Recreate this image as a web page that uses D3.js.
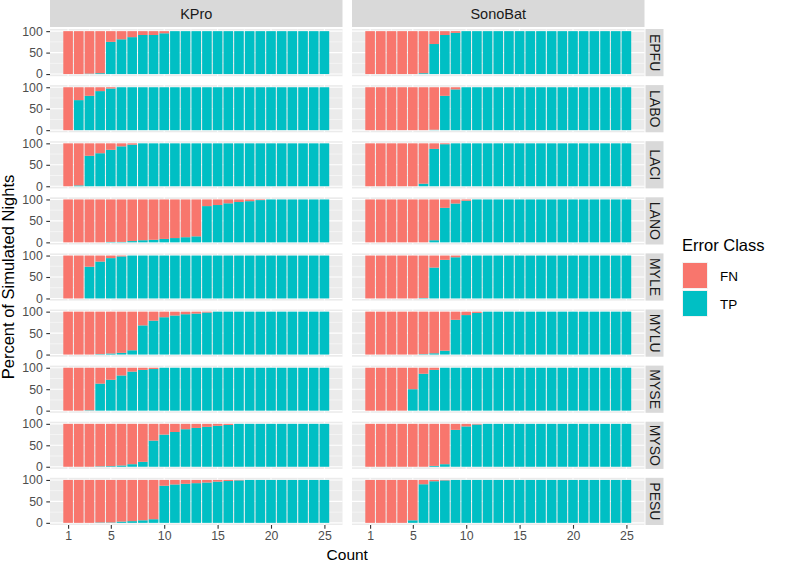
<!DOCTYPE html>
<html lang="en">
<head>
    <meta charset="UTF-8">
    <title>Error Class by Count</title>
<script src="https://d3js.org/d3.v7.min.js"></script>
    <style>
        body{
            margin: 0;
            background: #ffffff;
            font-family: "Liberation Sans", Arial, sans-serif;
        }
    </style>
</head>
<body>
<svg width="789" height="563" id="canvas"></svg>
<script>

    // categories
    const counts = [1,2,3,4,5,6,7,8,9,10,11,12,13,14,15,16,17,18,19,20,21,22,23,24,25];
    const classifiers = ["KPro", "SonoBat"];
    const species = ["EPFU", "LABO", "LACI", "LANO", "MYLE", "MYLU", "MYSE", "MYSO", "PESU"];
    const errorClasses = ["FN", "TP"];
    const xTicks = [1, 5, 10, 15, 20, 25];
    const yTicks = [0, 50, 100];

    // percent TP per count (FN is the rest up to 100)
    const kproEPFU = [0,0,1,2,75,81,86,91,91,95,100,100,100,100,100,100,100,100,100,100,100,100,100,100,100];
    const kproLABO = [0,70,80,91,97,100,100,100,100,100,100,100,100,100,100,100,100,100,100,100,100,100,100,100,100];
    const kproLACI = [0,2,71,77,85,93,97,100,100,100,100,100,100,100,100,100,100,100,100,100,100,100,100,100,100];
    const kproLANO = [0,0,0,0,1,1,3,5,6,8,10,12,14,84.5,87,91,94,96,98.5,100,100,100,100,100,100];
    const kproMYLE = [0,0,74,86,94,98,100,100,100,100,100,100,100,100,100,100,100,100,100,100,100,100,100,100,100];
    const kproMYLU = [0,0,0,1,2.5,4,10,68,79,87,91,94,95.5,98,100,100,100,100,100,100,100,100,100,100,100];
    const kproMYSE = [0,0,1,63,72,82,91,95,97,100,100,100,100,100,100,100,100,100,100,100,100,100,100,100,100];
    const kproMYSO = [0,0,0,1,1.5,3,6,11.5,61,75,81,87.5,90.5,93,95.5,97.5,100,100,100,100,100,100,100,100,100];
    const kproPESU = [0,0,0,1,1,3,4,6,8.5,86.5,89.5,91,92.5,94,96,97.5,99,100,100,100,100,100,100,100,100];

    const sonoEPFU = [0,0,0,0,0,2,70,91,96,100,100,100,100,100,100,100,100,100,100,100,100,100,100,100,100];
    const sonoLABO = [0,0,0,0,0,0,1,80,95,100,100,100,100,100,100,100,100,100,100,100,100,100,100,100,100];
    const sonoLACI = [0,0,0,0,0,6,87,98,100,100,100,100,100,100,100,100,100,100,100,100,100,100,100,100,100];
    const sonoLANO = [0,0,0,0,0,0,5,80.5,90.5,97,100,100,100,100,100,100,100,100,100,100,100,100,100,100,100];
    const sonoMYLE = [0,0,0,0,0,1,72,90,96,100,100,100,100,100,100,100,100,100,100,100,100,100,100,100,100];
    const sonoMYLU = [0,0,0,0,0,1,3,9,81,92,97,100,100,100,100,100,100,100,100,100,100,100,100,100,100];
    const sonoMYSE = [0,0,0,0,50,86,95,100,100,100,100,100,100,100,100,100,100,100,100,100,100,100,100,100,100];
    const sonoMYSO = [0,0,0,0,0,0,2,6,86,94,98.5,100,100,100,100,100,100,100,100,100,100,100,100,100,100];
    const sonoPESU = [0,0,0,0,6,90,97,99,100,100,100,100,100,100,100,100,100,100,100,100,100,100,100,100,100];

    const tpTable = {
        KPro: {EPFU: kproEPFU, LABO: kproLABO, LACI: kproLACI, LANO: kproLANO, MYLE: kproMYLE,
               MYLU: kproMYLU, MYSE: kproMYSE, MYSO: kproMYSO, PESU: kproPESU},
        SonoBat: {EPFU: sonoEPFU, LABO: sonoLABO, LACI: sonoLACI, LANO: sonoLANO, MYLE: sonoMYLE,
                  MYLU: sonoMYLU, MYSE: sonoMYSE, MYSO: sonoMYSO, PESU: sonoPESU}
    };

    const colors = {FN: "#F8766D", TP: "#00BFC4"};

    // layout (pixels)
    const panelW = 292.5, panelH = 47.2, rowStep = 56.1;
    const colX = [50, 352];
    const firstTop = 29;
    const stripH = 27;
    const sideStripX = 645.5, sideStripW = 18;

    let svg = d3.select("svg");

    // ggplot style expanded scales
    const xScale = d3.scaleLinear().domain([-0.695, 26.695]).range([0, panelW]);
    const yScale = d3.scaleLinear().domain([-5, 105]).range([panelH, 0]);
    const barW = xScale(0.9) - xScale(0);

    classifiers.forEach(function (cls, ci) {
        // top strip
        const strip = svg.append("g").attr("transform", `translate(${colX[ci]},0)`);
        strip.append("rect").attr("width", panelW).attr("height", stripH).attr("fill", "#D9D9D9");
        strip.append("text")
            .attr("x", panelW / 2).attr("y", stripH / 2 + 5)
            .attr("text-anchor", "middle")
            .attr("font-size", 14.5)
            .attr("fill", "#1A1A1A")
            .text(cls);

        species.forEach(function (sp, si) {
            const top = firstTop + si * rowStep;
            const panel = svg.append("g").attr("transform", `translate(${colX[ci]},${top})`);

            panel.append("rect").attr("width", panelW).attr("height", panelH).attr("fill", "#EBEBEB");

            // minor grid
            panel.selectAll(".ymin").data([25, 75]).enter().append("line")
                .attr("x1", 0).attr("x2", panelW)
                .attr("y1", d => yScale(d)).attr("y2", d => yScale(d))
                .attr("stroke", "#ffffff").attr("stroke-width", 0.5);
            panel.selectAll(".xmin").data([3, 7.5, 12.5, 17.5, 22.5]).enter().append("line")
                .attr("y1", 0).attr("y2", panelH)
                .attr("x1", d => xScale(d)).attr("x2", d => xScale(d))
                .attr("stroke", "#ffffff").attr("stroke-width", 0.5);
            // major grid
            panel.selectAll(".ymaj").data(yTicks).enter().append("line")
                .attr("x1", 0).attr("x2", panelW)
                .attr("y1", d => yScale(d)).attr("y2", d => yScale(d))
                .attr("stroke", "#ffffff").attr("stroke-width", 1.1);
            panel.selectAll(".xmaj").data(xTicks).enter().append("line")
                .attr("y1", 0).attr("y2", panelH)
                .attr("x1", d => xScale(d)).attr("x2", d => xScale(d))
                .attr("stroke", "#ffffff").attr("stroke-width", 1.1);

            // stacked bars: TP at the bottom, FN on top
            const tp = tpTable[cls][sp];
            const rows = counts.map((c, i) => ({count: c, TP: tp[i], FN: 100 - tp[i]}));
            const stacked = d3.stack().keys(["TP", "FN"])(rows);

            panel.selectAll(".layer").data(stacked).enter().append("g")
                .attr("fill", d => colors[d.key])
                .selectAll("rect").data(d => d).enter().append("rect")
                .attr("x", d => xScale(d.data.count) - barW / 2)
                .attr("width", barW)
                .attr("y", d => yScale(d[1]))
                .attr("height", d => yScale(d[0]) - yScale(d[1]));

            // y axis on the left column
            if (ci === 0) {
                const yAxis = d3.axisLeft(yScale).tickValues(yTicks).tickSize(3.7).tickPadding(3.5);
                const ag = panel.append("g").call(yAxis);
                ag.select(".domain").remove();
                ag.selectAll("line").attr("stroke", "#333333").attr("stroke-width", 1.1);
                ag.selectAll("text").attr("font-size", 12.3).attr("fill", "#4D4D4D")
                    .attr("font-family", "Liberation Sans, Arial, sans-serif");
            }

            // x axis on the bottom row
            if (si === species.length - 1) {
                const xAxis = d3.axisBottom(xScale).tickValues(xTicks).tickSize(3.7).tickPadding(3);
                const ag = panel.append("g").attr("transform", `translate(0,${panelH})`).call(xAxis);
                ag.select(".domain").remove();
                ag.selectAll("line").attr("stroke", "#333333").attr("stroke-width", 1.1);
                ag.selectAll("text").attr("font-size", 12.3).attr("fill", "#4D4D4D")
                    .attr("font-family", "Liberation Sans, Arial, sans-serif");
            }

            // side strip on the right column
            if (ci === classifiers.length - 1) {
                const side = svg.append("g").attr("transform", `translate(${sideStripX},${top})`);
                side.append("rect").attr("width", sideStripW).attr("height", panelH).attr("fill", "#D9D9D9");
                side.append("text")
                    .attr("transform", `translate(${sideStripW / 2 - 5},${panelH / 2}) rotate(90)`)
                    .attr("text-anchor", "middle")
                    .attr("font-size", 14)
                    .attr("fill", "#1A1A1A")
                    .text(sp);
            }
        });
    });

    // axis titles
    const panelsBottom = firstTop + (species.length - 1) * rowStep + panelH;
    svg.append("text")
        .attr("x", (colX[0] + colX[1] + panelW) / 2).attr("y", 560)
        .attr("text-anchor", "middle").attr("font-size", 15.5).attr("fill", "#000")
        .text("Count");
    svg.append("text")
        .attr("transform", `translate(14,${(firstTop + panelsBottom) / 2}) rotate(-90)`)
        .attr("text-anchor", "middle").attr("font-size", 16.5).attr("fill", "#000")
        .text("Percent of Simulated Nights");

    // legend
    const legend = svg.append("g").attr("transform", "translate(682,236)");
    legend.append("text").attr("x", 0).attr("y", 15)
        .attr("font-size", 16.5).attr("fill", "#000").text("Error Class");
    errorClasses.forEach(function (k, i) {
        const g = legend.append("g").attr("transform", `translate(0,${26 + i * 28})`);
        g.append("rect").attr("width", 26).attr("height", 27).attr("fill", "#F2F2F2");
        g.append("rect").attr("x", 1).attr("y", 1).attr("width", 24).attr("height", 25).attr("fill", colors[k]);
        g.append("text").attr("x", 38).attr("y", 18.5)
            .attr("font-size", 13.5).attr("fill", "#000").text(k);
    });

</script>
</body>
</html>
